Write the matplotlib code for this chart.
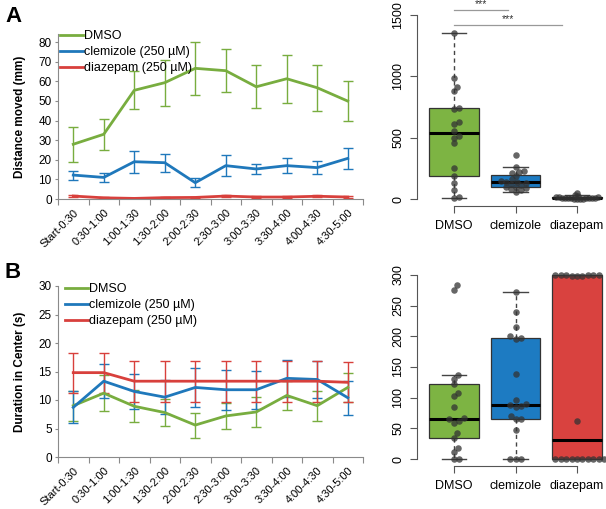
import numpy as np
import matplotlib
matplotlib.use('Agg')
import matplotlib.pyplot as plt
from matplotlib.lines import Line2D
from matplotlib.transforms import ScaledTranslation

plt.rcParams['font.family'] = ['Liberation Sans', 'DejaVu Sans']

# ---- data ----
periods = ['Start-0:30', '0:30-1:00', '1:00-1:30', '1:30-2:00', '2:00-2:30',
           '2:30-3:00', '3:00-3:30', '3:30-4:00', '4:00-4:30', '4:30-5:00']
series_names = ['DMSO', 'clemizole (250 µM)', 'diazepam (250 µM)']
groups = ['DMSO', 'clemizole', 'diazepam']

# panel A, distance moved (mm), mean and error
dist_dmso = [27.9, 33.0, 55.4, 59.3, 66.6, 65.4, 57.2, 61.3, 56.7, 49.9]
dist_dmso_err = [9.0, 8.0, 9.7, 11.7, 13.4, 11.1, 11.0, 12.2, 11.7, 10.0]
dist_clem = [12.2, 11.0, 19.0, 18.5, 8.3, 17.0, 15.3, 17.0, 16.0, 20.7]
dist_clem_err = [2.3, 2.4, 5.6, 4.6, 2.2, 5.3, 2.5, 3.7, 3.2, 5.4]
dist_diaz = [1.5, 0.6, 0.3, 0.7, 0.8, 1.5, 1.0, 1.0, 1.4, 1.0]
dist_diaz_err = [0.3, 0.2, 0.2, 0.3, 0.3, 0.5, 0.4, 0.4, 0.5, 0.3]

# panel B, duration in center (s)
dur_dmso = [9.0, 11.2, 8.9, 7.8, 5.6, 7.2, 7.9, 10.8, 9.0, 12.2]
dur_dmso_err = [2.6, 3.1, 2.8, 2.3, 2.2, 2.3, 2.6, 2.5, 2.6, 2.5]
dur_clem = [8.7, 13.3, 11.5, 10.5, 12.2, 11.8, 11.8, 13.8, 13.6, 10.4]
dur_clem_err = [2.8, 3.0, 3.0, 3.0, 3.4, 3.5, 3.3, 3.3, 3.3, 3.0]
dur_diaz = [14.8, 14.8, 13.3, 13.3, 13.3, 13.3, 13.3, 13.3, 13.3, 13.1]
dur_diaz_err = [3.5, 3.5, 3.6, 3.6, 3.6, 3.6, 3.6, 3.6, 3.6, 3.5]

# totals per fish for the box plots
tot_dist_dmso = [1356, 990, 910, 880, 745, 730, 630, 615, 555, 515, 500, 455,
                 255, 185, 130, 70, 20, 5]
tot_dist_clem = [360, 265, 230, 220, 210, 185, 160, 150, 140, 135, 130, 120,
                 115, 100, 95, 90, 80, 70, 60]
tot_dist_diaz = [2, 3, 4, 3, 5, 6, 5, 8, 10, 8, 12, 15, 10, 20, 25, 15, 30, 48]

tot_dur_dmso = [283, 275, 137, 131, 122, 108, 102, 85, 67, 65, 62, 59, 42, 34,
                18, 12, 0, 0]
tot_dur_clem = [273, 240, 216, 200, 198, 196, 138, 96, 90, 88, 86, 84, 70, 66,
                65, 48, 0, 0, 0]
tot_dur_diaz = [300, 300, 299, 300, 298, 300, 300, 299, 300, 62,
                0, 0, 0, 0, 0, 0, 0, 0, 0, 0]

line_cols = ['#78AD3F', '#1F78BB', '#D8403C']
box_cols = ['#7DB443', '#1D7BC2', '#D9423F']
axis_gray = '#8a8a8a'

W, H = 606, 509
fig = plt.figure(figsize=(W / 100, H / 100), dpi=100)


def px_rect(left, top, right, bottom):
    return [left / W, (H - bottom) / H, (right - left) / W, (bottom - top) / H]


def line_panel(rect, means, errs, ylim, yticks, ylabel, legend_xy):
    ax = fig.add_axes(rect)
    x = np.arange(len(periods))
    for m, e, c in zip(means, errs, line_cols):
        ax.errorbar(x, m, yerr=e, color=c, lw=2, elinewidth=1, capsize=3.5,
                    capthick=1)
    ax.set_xlim(-0.5, len(periods) - 0.5)
    ax.set_ylim(*ylim)
    ax.set_yticks(yticks)
    ax.set_xticks(np.arange(len(periods) + 1) - 0.5)
    ax.set_xticklabels([])
    ax.set_xticks(x, minor=True)
    ax.set_xticklabels(periods, minor=True, rotation=45, ha='right',
                       va='top', rotation_mode='anchor', fontsize=8)
    shift = ScaledTranslation(5 / 100, -7 / 100, fig.dpi_scale_trans)
    for lab in ax.get_xticklabels(minor=True):
        lab.set_transform(lab.get_transform() + shift)
    ax.tick_params(axis='x', which='minor', length=0, pad=6)
    ax.tick_params(axis='x', which='major', length=4, color=axis_gray)
    ax.tick_params(axis='y', length=2.5, color=axis_gray, labelsize=8.5, pad=2)
    for s in ['top', 'right']:
        ax.spines[s].set_visible(False)
    for s in ['left', 'bottom']:
        ax.spines[s].set_color(axis_gray)
    ax.set_ylabel(ylabel, fontsize=8.5, fontweight='bold')
    ax.yaxis.set_label_coords(-0.105, 0.5)
    handles = [Line2D([], [], color=c, lw=2) for c in line_cols]
    ax.legend(handles, series_names, loc='upper left', bbox_to_anchor=legend_xy,
              bbox_transform=fig.transFigure, frameon=False, fontsize=9,
              handlelength=1.8, handletextpad=0.15, labelspacing=0.33,
              borderpad=0, borderaxespad=0)
    return ax


def swarm(ax, xc, vals, d_px):
    vals = np.asarray(vals, float)
    tr = ax.transData
    pts = tr.transform(np.column_stack([np.full(len(vals), xc), vals]))
    px_per_x = tr.transform([[xc + 1, 0]])[0, 0] - tr.transform([[xc, 0]])[0, 0]
    y_px = pts[:, 1]
    order = np.argsort(y_px)
    placed = []
    offs = np.zeros(len(vals))
    step = d_px / 6
    cands = [0.0]
    for k in range(1, 300):
        cands += [k * step, -k * step]
    for i in order:
        for c in cands:
            ok = True
            for (px, py) in placed:
                if (px - c) ** 2 + (py - y_px[i]) ** 2 < d_px ** 2 * 0.98:
                    ok = False
                    break
            if ok:
                offs[i] = c
                placed.append((c, y_px[i]))
                break
    return xc + offs / px_per_x


def r_stats(vals):
    v = np.sort(np.asarray(vals, float))
    n = len(v)
    n4 = np.floor((n + 3) / 2) / 2
    d = np.array([1, n4, (n + 1) / 2, n + 1 - n4, n]) - 1
    five = 0.5 * (v[np.floor(d).astype(int)] + v[np.ceil(d).astype(int)])
    iqr = five[3] - five[1]
    lo = v[v >= five[1] - 1.5 * iqr].min()
    hi = v[v <= five[3] + 1.5 * iqr].max()
    return dict(med=five[2], q1=five[1], q3=five[3], whislo=lo, whishi=hi,
                fliers=[])


def box_panel(rect, data, ylim, yticks, spacing):
    ax = fig.add_axes(rect)
    ax.set_xlim(0.4, 3.47)
    ax.set_ylim(*ylim)
    stats = [r_stats(d) for d in data]
    bp = ax.bxp(stats, positions=[1, 2, 3], widths=0.8, patch_artist=True,
                showfliers=False,
                boxprops=dict(edgecolor='#333333', lw=0.9),
                medianprops=dict(color='black', lw=2.2),
                whiskerprops=dict(color='#444444', lw=1, ls=(0, (3, 2.5))),
                capprops=dict(color='#444444', lw=1), capwidths=0.4)
    for p, c in zip(bp['boxes'], box_cols):
        p.set_facecolor(c)
    for i, (d, sp) in enumerate(zip(data, spacing)):
        xs = swarm(ax, i + 1, d, sp)
        ax.scatter(xs, d, s=22, color='#333333', alpha=0.75, lw=0,
                   zorder=5, clip_on=False)
    for s in ['top', 'right']:
        ax.spines[s].set_visible(False)
    ax.spines['left'].set_bounds(yticks[0], yticks[-1])
    ax.spines['bottom'].set_bounds(1, 3)
    for s in ['left', 'bottom']:
        ax.spines[s].set_color('#555555')
    ax.set_yticks(yticks)
    ax.set_yticklabels([str(t) for t in yticks], rotation=90, va='center')
    ax.set_xticks([1, 2, 3])
    ax.set_xticklabels(groups)
    ax.tick_params(length=5, color='#555555', labelsize=9, pad=4)
    ax.tick_params(axis='x', pad=5)
    return ax


axA = line_panel(px_rect(58, 34.2, 363, 199),
                 [dist_dmso, dist_clem, dist_diaz],
                 [dist_dmso_err, dist_clem_err, dist_diaz_err],
                 (0, 84), np.arange(0, 81, 10), 'Distance moved (mm)',
                 (60 / W, 1 - 30 / H))
axB = line_panel(px_rect(58, 286, 363, 457),
                 [dur_dmso, dur_clem, dur_diaz],
                 [dur_dmso_err, dur_clem_err, dur_diaz_err],
                 (0, 30), np.arange(0, 31, 5), 'Duration in Center (s)',
                 (65 / W, 1 - 283 / H))

bxA = box_panel(px_rect(417, 7.6, 606, 206.4),
                [tot_dist_dmso, tot_dist_clem, tot_dist_diaz],
                (-60, 1560), [0, 500, 1000, 1500], [5.0, 5.0, 3.0])
bxB = box_panel(px_rect(417, 267.6, 606, 466.4),
                [tot_dur_dmso, tot_dur_clem, tot_dur_diaz],
                (-12, 312), [0, 50, 100, 150, 200, 250, 300], [5.4, 5.4, 5.4])

# significance bars
for (x1, x2, y) in [(1, 1.88, 1541), (1, 2.76, 1418)]:
    bxA.plot([x1, x2], [y, y], color='#999999', lw=0.9, clip_on=False)
    bxA.text((x1 + x2) / 2, y + 10, '***', ha='center', va='bottom',
             fontsize=7.5, color='#333333', clip_on=False)

fig.text(5 / W, 1 - 17 / H, 'A', fontsize=16, fontweight='bold', va='center')
fig.text(5 / W, 1 - 272 / H, 'B', fontsize=16, fontweight='bold', va='center')

fig.savefig('out.png', dpi=100)
